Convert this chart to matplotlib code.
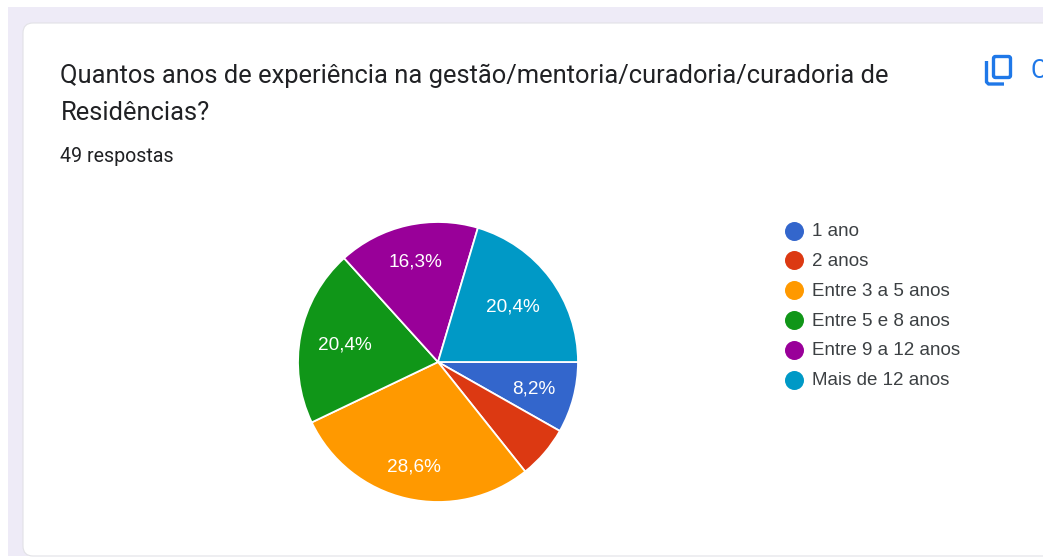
# -*- coding: utf-8 -*-

import numpy as np
import matplotlib
matplotlib.use('Agg')
import matplotlib.pyplot as plt
from matplotlib.patches import FancyBboxPatch, Rectangle

title_lines = ['Quantos anos de experiência na gestão/mentoria/curadoria/curadoria de', 'Residências?']
subtitle = '49 respostas'
categories = ['1 ano', '2 anos', 'Entre 3 a 5 anos', 'Entre 5 e 8 anos', 'Entre 9 a 12 anos', 'Mais de 12 anos']
values = [8.2, 6.1, 28.6, 20.4, 16.3, 20.4]
slice_labels = ['8,2%', '', '28,6%', '20,4%', '16,3%', '20,4%']
colors = ['#3366cc', '#dc3912', '#ff9900', '#109618', '#990099', '#0099c6']

W, H = 1045, 557
PX = 72.0 / 100

fig = plt.figure(figsize=(W / 100, H / 100), dpi=100, facecolor='white')

# page background, in pixel coordinates
bg = fig.add_axes([0, 0, 1, 1])
bg.set_xlim(0, W)
bg.set_ylim(H, 0)
bg.axis('off')
bg.add_patch(Rectangle((8, 7), 1035, 549, fc='#eeebf7', ec='none'))
bg.add_patch(Rectangle((1043, 0), 2, H, fc='white', ec='none', zorder=5))
bg.add_patch(FancyBboxPatch((23, 23), 1040, 533, boxstyle='round,pad=0,rounding_size=10',
                            fc='white', ec='#e2e2e6', lw=0.8, zorder=2))

bg.text(60.5, 75.5, title_lines[0], fontsize=25.5 * PX, family='Roboto', color='#202124', va='center', zorder=3)
bg.text(60.5, 113, title_lines[1], fontsize=25.5 * PX, family='Roboto', color='#202124', va='center', zorder=3)
bg.text(60.5, 156, subtitle, fontsize=19.7 * PX, family='Roboto', color='#202124', va='center', zorder=3)

# copy icon
blue = '#1f78e8'
bg.add_patch(FancyBboxPatch((993.5, 56.5), 17, 21, boxstyle='round,pad=0,rounding_size=2',
                            fc='none', ec=blue, lw=2.4, zorder=3))
bg.plot([986.5, 986.5, 988.5, 1004], [61, 82, 84, 84], color=blue, lw=2.4, zorder=3, solid_capstyle='butt')
bg.text(1030, 70.5, 'C', fontsize=25 * PX, family='Roboto', color=blue, va='center', zorder=3)

# legend
for i, (cat, col) in enumerate(zip(categories, colors)):
    y = 231 + i * 29.85
    bg.scatter([794], [y - 0.5], s=(19 * PX) ** 2, color=col, linewidths=0, zorder=3)
    bg.text(812, y + 0.5, cat, fontsize=18.75 * PX, family='Liberation Sans', color='#3c4043', va='center', zorder=3)

# pie
cx, cy, r = 438, 362, 140
ax = fig.add_axes([(cx - r) / W, 1 - (cy + r) / H, 2 * r / W, 2 * r / H])
ax.set_zorder(3)
wedges, texts = ax.pie(values, colors=colors, startangle=0, counterclock=False,
                       radius=1, wedgeprops=dict(edgecolor='white', linewidth=1.3))
label_dist = [0.71, 0.7, 0.756, 0.676, 0.743, 0.669]
for w, lab, d in zip(wedges, slice_labels, label_dist):
    mid = np.radians((w.theta1 + w.theta2) / 2)
    ax.text(d * np.cos(mid), d * np.sin(mid) - 0.01, lab, color='white', fontsize=19 * PX,
            family='Liberation Sans', ha='center', va='center')
ax.set_xlim(-1, 1)
ax.set_ylim(-1, 1)

fig.savefig('out.png', dpi=100)
